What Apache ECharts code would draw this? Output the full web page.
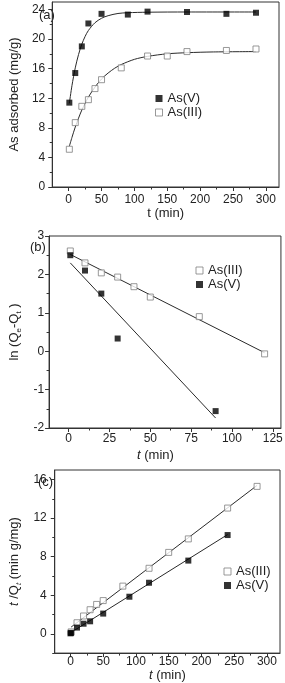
<!DOCTYPE html>
<html><head><meta charset="utf-8">
<script src="https://cdn.jsdelivr.net/npm/echarts@6/dist/echarts.min.js"></script>
<style>html,body{margin:0;padding:0;background:#fff}#c{width:285px;height:683px}</style>
</head><body><div id="c"></div>
<script>
// ---- Panel (a) data ----
var tA_V = [1,10,20,30,50,90,120,180,240,285];
var qA_V = [11.4,15.4,19.0,22.1,23.4,23.3,23.7,23.65,23.4,23.55];
var tA_III = [1,10,20,30,40,50,80,120,150,180,240,285];
var qA_III = [5.1,8.7,10.9,11.8,13.3,14.5,16.1,17.7,17.7,18.3,18.45,18.65];
var fitTA_V = [1,5,10,15,20,25,30,40,50,60,75,90,120,180,285];
var fitQA_V = [11.3,13.7,16.1,17.9,19.3,20.35,21.15,22.2,22.8,23.15,23.45,23.55,23.62,23.65,23.65];
var fitTA_III = [1,5,10,15,20,25,30,40,50,60,70,80,100,120,150,180,220,285];
var fitQA_III = [5.5,6.7,8.1,9.3,10.4,11.3,12.15,13.5,14.6,15.4,16.05,16.55,17.25,17.65,18.0,18.15,18.25,18.3];
var xTicksA = [0,50,100,150,200,250,300];
var xMinorA = [25,75,125,175,225,275];
var yTicksA = [0,4,8,12,16,20,24];
var yMinorA = [2,6,10,14,18,22];

// ---- Panel (b) data ----
var tB_III = [1,10,20,30,40,50,80,120];
var lnB_III = [2.61,2.30,2.04,1.93,1.68,1.41,0.90,-0.07];
var tB_V = [1,10,20,30,90];
var lnB_V = [2.50,2.10,1.50,0.33,-1.56];
var fitTB_III = [1,120];
var fitLnB_III = [2.52,-0.04];
var fitTB_V = [1,90];
var fitLnB_V = [2.30,-1.74];
var xTicksB = [0,25,50,75,100,125];
var xMinorB = [12.5,37.5,62.5,87.5,112.5];
var yTicksB = [-2,-1,0,1,2,3];
var yMinorB = [-1.5,-0.5,0.5,1.5,2.5];

// ---- Panel (c) data ----
var tC_III = [1,10,20,30,40,50,80,120,150,180,240,285];
var yC_III = [0.2,1.15,1.85,2.5,3.05,3.45,4.95,6.8,8.45,9.85,13.05,15.3];
var tC_V = [0,1,10,20,30,50,90,120,180,240];
var yC_V = [0.05,0.1,0.65,1.05,1.3,2.1,3.85,5.3,7.6,10.25];
var fitTC_III = [1,285];
var fitYC_III = [0.7,15.4];
var fitTC_V = [1,240];
var fitYC_V = [0.15,10.3];
var xTicksC = [0,50,100,150,200,250,300];
var xMinorC = [25,75,125,175,225,275];
var yTicksC = [0,4,8,12,16];
var yMinorC = [-2,2,6,10,14];

function zip(a,b){return a.map(function(v,i){return [v,b[i]];});}

var FONT = 'Liberation Sans';
var AX = '#333';
var LBL = '#222';

function mainAxis(type, gi, min, max, ticks, name, nameGap, margin){
  var o = {
    type:'value', gridIndex:gi, min:min, max:max,
    position:(type==='y'?'left':'bottom'),
    name:name, nameLocation:'middle', nameGap:nameGap,
    nameTextStyle:{fontFamily:FONT,fontSize:13,color:LBL, rich:{
      i:{fontFamily:FONT,fontSize:13,fontStyle:'italic',color:LBL},
      s:{fontFamily:FONT,fontSize:8,color:LBL,padding:[8,0,0,0]},
      si:{fontFamily:FONT,fontSize:8,fontStyle:'italic',color:LBL,padding:[8,0,0,0]}
    }},
    splitLine:{show:false},
    axisLine:{show:true,onZero:false,lineStyle:{color:AX,width:1}},
    axisTick:{show:true,inside:false,length:4,customValues:ticks,lineStyle:{color:AX}},
    axisLabel:{show:true,customValues:ticks,fontFamily:FONT,fontSize:12,color:LBL,margin:margin},
    minorTick:{show:false}
  };
  if(type==='y'){o.nameRotate=90;}
  return o;
}
function minorAxis(type, gi, min, max, ticks){
  return {
    type:'value', gridIndex:gi, min:min, max:max,
    position:(type==='y'?'left':'bottom'),
    splitLine:{show:false},
    axisLine:{show:false,onZero:false},
    axisTick:{show:true,inside:false,length:2.5,customValues:ticks,lineStyle:{color:AX}},
    axisLabel:{show:false}
  };
}

var xAxes = [
  mainAxis('x',0,-25,320,xTicksA,'t (min)',19,7),
  mainAxis('x',1,-12,130,xTicksB,'',20,5),
  mainAxis('x',2,-24,320,xTicksC,'{i|t} (min)',15,3),
  minorAxis('x',0,-25,320,xMinorA),
  minorAxis('x',1,-12,130,xMinorB),
  minorAxis('x',2,-24,320,xMinorC)
];
var yAxes = [
  mainAxis('y',0,0,25,yTicksA,'As adsorbed (mg/g)',24,7),
  mainAxis('y',1,-2,3,yTicksB,'ln (Q{s|e}-Q{s|t} )',17,5),
  mainAxis('y',2,-2,17,yTicksC,'{i|t} /Q{si|t} (min g/mg)',22,8),
  minorAxis('y',0,0,25,yMinorA),
  minorAxis('y',1,-2,3,yMinorB),
  minorAxis('y',2,-2,17,yMinorC)
];

var openStyle = {color:'#fff',borderColor:'#808080',borderWidth:1};
var fillStyle = {color:'#000',borderColor:'#000',borderWidth:0};
var lineStyle = {color:'#2a2a2a',width:1};

function scat(name, xi, data, style){
  return {type:'scatter',name:name,xAxisIndex:xi,yAxisIndex:xi,data:data,
    symbol:'rect',symbolSize:6,itemStyle:style,z:3,silent:true};
}
function fit(name, xi, data, smooth){
  return {type:'line',name:name,xAxisIndex:xi,yAxisIndex:xi,data:data,
    showSymbol:false,symbol:'none',smooth:smooth||false,lineStyle:lineStyle,z:2,silent:true};
}

var series = [
  fit('fitA_V',0,zip(fitTA_V,fitQA_V),0.3),
  fit('fitA_III',0,zip(fitTA_III,fitQA_III),0.3),
  scat('As(V)',0,zip(tA_V,qA_V),fillStyle),
  scat('As(III)',0,zip(tA_III,qA_III),openStyle),
  fit('fitB_III',1,zip(fitTB_III,fitLnB_III)),
  fit('fitB_V',1,zip(fitTB_V,fitLnB_V)),
  scat('As(III)',1,zip(tB_III,lnB_III),openStyle),
  scat('As(V)',1,zip(tB_V,lnB_V),fillStyle),
  fit('fitC_III',2,zip(fitTC_III,fitYC_III)),
  fit('fitC_V',2,zip(fitTC_V,fitYC_V)),
  scat('As(III)',2,zip(tC_III,yC_III),openStyle),
  scat('As(V)',2,zip(tC_V,yC_V),fillStyle)
];

function legend(left, top, names){
  return {left:left, top:top, orient:'vertical', itemWidth:7, itemHeight:7, itemGap:1,
    padding:0, selectedMode:false, icon:'rect',
    textStyle:{fontFamily:FONT,fontSize:13,color:LBL},
    data:names.map(function(n){return {name:n,icon:'rect',itemStyle:(n==='As(V)'?fillStyle:openStyle)};})};
}

var gridStyle = {show:true,borderColor:AX,borderWidth:1,backgroundColor:'transparent',containLabel:false};
var option = {
  animation:false,
  backgroundColor:'#fff',
  grid:[
    Object.assign({left:35,top:2,width:244,height:185},gridStyle),
    Object.assign({left:27,top:236,width:255,height:192},gridStyle),
    Object.assign({left:34,top:470,width:246,height:184},gridStyle)
  ],
  xAxis:xAxes,
  yAxis:yAxes,
  legend:[
    legend(155,92,['As(V)','As(III)']),
    legend(195.5,264,['As(III)','As(V)']),
    legend(223.5,565,['As(III)','As(V)'])
  ],
  graphic:[
    {type:'text',left:39,top:9,style:{text:'(a)',font:'13px "Liberation Sans"',fill:LBL}},
    {type:'text',left:30,top:241,style:{text:'(b)',font:'13px "Liberation Sans"',fill:LBL}},
    {type:'text',left:38,top:476,style:{text:'(c)',font:'13px "Liberation Sans"',fill:LBL}},
    {type:'text',left:137,top:449,style:{text:'{i|t} (min)',font:'13px "Liberation Sans"',fill:LBL,
      rich:{i:{fontStyle:'italic',fontFamily:FONT,fontSize:13,fill:LBL}}}}
  ],
  series:series
};
var chart = echarts.init(document.getElementById('c'),null,{renderer:'canvas'});
chart.setOption(option);
</script></body></html>
